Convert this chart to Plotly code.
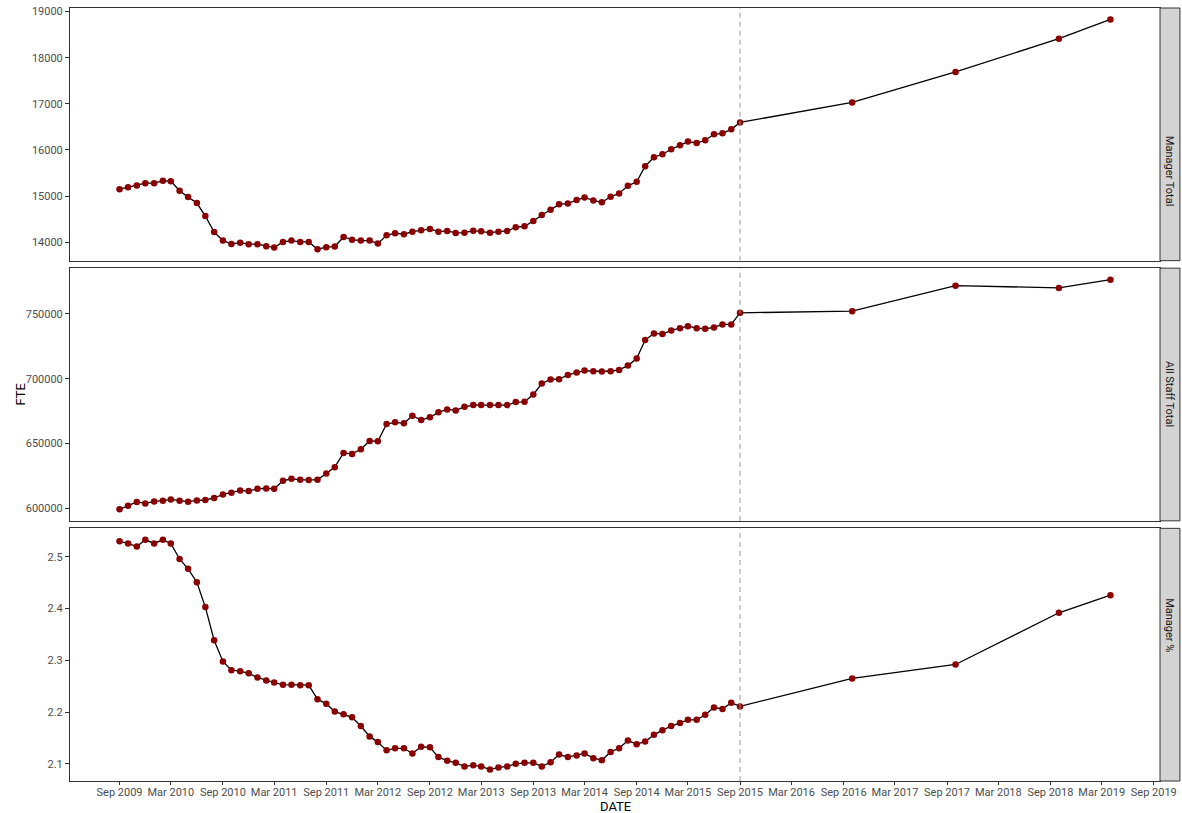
import pandas as pd
import plotly.graph_objects as go
from plotly.subplots import make_subplots

# monthly actuals Sep 2009 - Sep 2015, then four projected points
MONTHS = pd.date_range("2009-09-01", "2015-09-01", freq="MS")
PROJ_DATES = ["2016-10-01", "2017-10-01", "2018-10-01", "2019-04-01"]

MANAGER_TOTAL = [
    15151, 15194, 15231, 15281, 15281, 15331, 15324, 15115, 14978, 14849,
    14568, 14222, 14035, 13963, 13991, 13957, 13957, 13914, 13884, 14007,
    14035, 14007, 14007, 13849, 13892, 13906, 14114, 14056, 14035, 14035,
    13970, 14151, 14197, 14173, 14229, 14259, 14287, 14229, 14244, 14201,
    14207, 14251, 14237, 14207, 14229, 14244, 14324, 14346, 14460, 14590,
    14704, 14821, 14842, 14914, 14972, 14907, 14864, 14985, 15058, 15222,
    15309, 15648, 15842, 15907, 16015, 16101, 16181, 16151, 16210, 16339,
    16361, 16447, 16598]
MANAGER_PROJ = [17030, 17693, 18413, 18829]

ALL_STAFF = [
    599230, 602070, 604920, 603840, 605380, 605910, 606910, 605910, 605150, 606140,
    606450, 607990, 610750, 612060, 613820, 613360, 615130, 615360, 615130, 621270,
    622810, 622040, 621810, 622040, 626880, 631800, 642780, 642010, 645620, 651990,
    651760, 665050, 666360, 665590, 671420, 668120, 670200, 674040, 676340, 675570,
    678340, 679640, 679640, 679640, 679640, 679640, 681950, 682180, 687860, 696310,
    699380, 699610, 702910, 704760, 706290, 705750, 705520, 705750, 706750, 710130,
    715510, 729790, 734940, 734400, 737240, 739010, 740540, 739010, 738550, 739550,
    741850, 741850, 750840]
ALL_STAFF_PROJ = [752064, 771802, 770035, 776410]

MANAGER_PCT = [
    2.530, 2.526, 2.520, 2.533, 2.526, 2.533, 2.526, 2.496, 2.477, 2.451,
    2.403, 2.339, 2.298, 2.281, 2.279, 2.275, 2.267, 2.261, 2.257, 2.253,
    2.253, 2.252, 2.252, 2.225, 2.216, 2.201, 2.196, 2.190, 2.173, 2.153,
    2.142, 2.126, 2.130, 2.130, 2.120, 2.133, 2.132, 2.113, 2.106, 2.102,
    2.095, 2.097, 2.095, 2.089, 2.093, 2.095, 2.100, 2.102, 2.102, 2.095,
    2.103, 2.118, 2.113, 2.116, 2.120, 2.111, 2.107, 2.123, 2.130, 2.145,
    2.138, 2.143, 2.156, 2.165, 2.173, 2.179, 2.185, 2.185, 2.195, 2.209,
    2.206, 2.218, 2.211]
MANAGER_PCT_PROJ = [2.265, 2.292, 2.392, 2.426]

FACETS = ["Manager Total", "All Staff Total", "Manager %"]
CUTOFF = "2015-09-01"

TICK_DATES = pd.date_range("2009-09-01", "2019-09-01", freq="6MS")
TICK_TEXT = [d.strftime("%b %Y") for d in TICK_DATES]

Y_TICKS = [
    [14000, 15000, 16000, 17000, 18000, 19000],
    [600000, 650000, 700000, 750000],
    [2.1, 2.2, 2.3, 2.4, 2.5],
]
Y_FMT = ["d", "d", ".1f"]

dates = list(MONTHS) + list(pd.to_datetime(PROJ_DATES))
series = [MANAGER_TOTAL + MANAGER_PROJ,
          ALL_STAFF + ALL_STAFF_PROJ,
          MANAGER_PCT + MANAGER_PCT_PROJ]

# ggplot-style 5% expansion
span = dates[-1] - dates[0]
xr = [dates[0] - span * 0.05, dates[-1] + span * 0.05]

W, H = 1182, 813
L, R, T, B = 70, 18, 5, 32
gap = 0.0097
hpanel = (1 - 2 * gap) / 3
domains = [[1 - hpanel, 1],
           [hpanel + gap, 2 * hpanel + gap],
           [0, hpanel]]

fig = make_subplots(rows=3, cols=1, shared_xaxes=True)
FONT = "Roboto"

for i, vals in enumerate(series):
    r = i + 1
    fig.add_trace(go.Scatter(x=dates, y=vals, mode="lines+markers",
                             line=dict(color="black", width=1.3),
                             marker=dict(color="#8B0000", size=6.5,
                                         line=dict(width=0)),
                             showlegend=False), row=r, col=1)
    lo, hi = min(vals), max(vals)
    pad = (hi - lo) * 0.05
    yname = "yaxis" if r == 1 else f"yaxis{r}"
    fig.layout[yname].update(domain=domains[i], range=[lo - pad, hi + pad],
                             tickvals=Y_TICKS[i], tickformat=Y_FMT[i],
                             showgrid=False, zeroline=False,
                             showline=True, mirror=True, linecolor="#333333", linewidth=1,
                             ticks="outside", ticklen=4, tickcolor="#333333",
                             tickfont=dict(family=FONT, size=11, color="#4D4D4D"))
    xname = "xaxis" if r == 1 else f"xaxis{r}"
    fig.layout[xname].update(range=xr, showgrid=False, zeroline=False,
                             showline=True, mirror=True, linecolor="#333333", linewidth=1,
                             tickvals=TICK_DATES, ticktext=TICK_TEXT,
                             ticks="outside" if r == 3 else "", ticklen=3, tickcolor="#333333",
                             showticklabels=(r == 3), ticklabelstandoff=-2,
                             tickfont=dict(family=FONT, size=11, color="#4D4D4D"))
    xref = "x" if r == 1 else f"x{r}"
    yref = "y" if r == 1 else f"y{r}"
    fig.add_shape(type="line", xref=xref, yref=yref + " domain",
                  x0=CUTOFF, x1=CUTOFF, y0=0, y1=1,
                  line=dict(color="#999999", width=1, dash="5px,4px"))
    # facet strip on the right
    x0 = 1.0
    x1 = (W - L - R + 20) / (W - L - R)
    fig.add_shape(type="rect", xref="paper", yref="paper",
                  x0=x0, x1=x1, y0=domains[i][0], y1=domains[i][1],
                  fillcolor="#D3D3D3", line=dict(color="#333333", width=1))
    fig.add_annotation(text=FACETS[i], xref="paper", yref="paper",
                       x=(x0 + x1) / 2, y=sum(domains[i]) / 2, showarrow=False,
                       xshift=8, textangle=90,
                       font=dict(family=FONT, size=11, color="#1A1A1A"))

fig.add_annotation(text="DATE", xref="paper", yref="paper", x=0.5, y=0,
                   yshift=-25, yanchor="middle", showarrow=False,
                   font=dict(family=FONT, size=13, color="black"))
fig.add_annotation(text="FTE", xref="paper", yref="paper", x=0, y=0.5,
                   xshift=-50, xanchor="center", textangle=-90, showarrow=False,
                   font=dict(family=FONT, size=13, color="black"))

fig.update_layout(width=W, height=H, margin=dict(l=L, r=R, t=T, b=B),
                  plot_bgcolor="white", paper_bgcolor="white",
                  font=dict(family=FONT))
fig.write_html("out.html", config={"displayModeBar": False},
               post_script="document.body.style.margin='0';"
                           "document.body.style.overflow='hidden';")
